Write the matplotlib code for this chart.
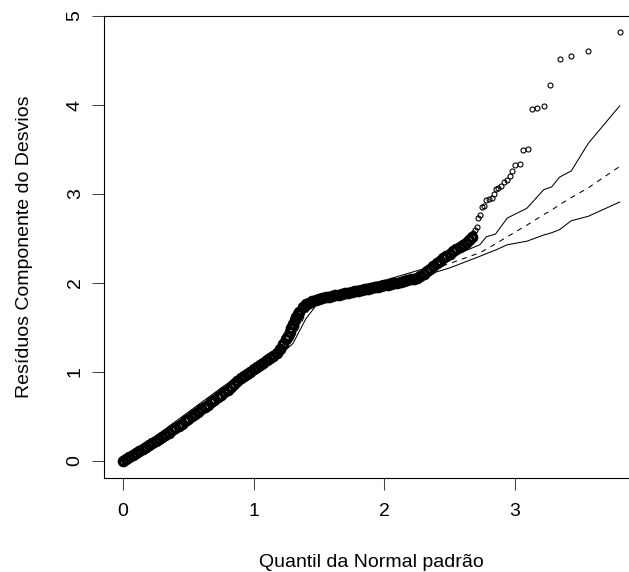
import matplotlib
matplotlib.use("Agg")
import matplotlib.pyplot as plt

plt.rcParams['font.family'] = ['Liberation Sans', 'DejaVu Sans']

# half-normal plot with simulated envelope
dense_x = [0.000, 0.025, 0.050, 0.075, 0.100, 0.125, 0.150, 0.175, 0.200, 0.225,
           0.250, 0.275, 0.300, 0.325, 0.350, 0.375, 0.400, 0.425, 0.450, 0.475,
           0.500, 0.525, 0.550, 0.575, 0.600, 0.625, 0.650, 0.675, 0.700, 0.725,
           0.750, 0.775, 0.800, 0.825, 0.850, 0.875, 0.900, 0.925, 0.950, 0.975,
           1.000, 1.025, 1.050, 1.075, 1.100, 1.125, 1.150, 1.175, 1.200, 1.225,
           1.250, 1.2625, 1.275, 1.2875, 1.300, 1.3125, 1.325, 1.3375, 1.350, 1.375,
           1.400, 1.425, 1.450, 1.475, 1.500, 1.525, 1.550, 1.575, 1.600, 1.625,
           1.650, 1.675, 1.700, 1.725, 1.750, 1.775, 1.800, 1.825, 1.850, 1.875,
           1.900, 1.925, 1.950, 1.975, 2.000, 2.025, 2.050, 2.075, 2.100, 2.125,
           2.150, 2.175, 2.200, 2.225, 2.250, 2.275, 2.300, 2.325, 2.350, 2.375,
           2.400, 2.425, 2.450, 2.475, 2.500, 2.525, 2.550, 2.575, 2.600, 2.625,
           2.650, 2.670]
dense_y = [0.000, 0.022, 0.045, 0.068, 0.090, 0.115, 0.140, 0.162, 0.185, 0.208,
           0.230, 0.252, 0.275, 0.298, 0.320, 0.345, 0.370, 0.395, 0.420, 0.448,
           0.475, 0.502, 0.530, 0.555, 0.580, 0.608, 0.635, 0.662, 0.690, 0.718,
           0.745, 0.772, 0.800, 0.835, 0.870, 0.900, 0.930, 0.955, 0.980, 1.005,
           1.030, 1.055, 1.080, 1.105, 1.130, 1.155, 1.180, 1.215, 1.260, 1.310,
           1.370, 1.410, 1.450, 1.495, 1.540, 1.580, 1.620, 1.650, 1.680, 1.730,
           1.760, 1.780, 1.795, 1.808, 1.820, 1.830, 1.840, 1.848, 1.855, 1.862,
           1.870, 1.878, 1.885, 1.892, 1.900, 1.908, 1.915, 1.922, 1.930, 1.938,
           1.945, 1.952, 1.960, 1.968, 1.975, 1.982, 1.990, 1.995, 2.000, 2.010,
           2.020, 2.030, 2.040, 2.050, 2.060, 2.078, 2.100, 2.130, 2.160, 2.190,
           2.220, 2.250, 2.280, 2.305, 2.330, 2.355, 2.380, 2.405, 2.430, 2.455,
           2.480, 2.520]

tail_x = [2.680, 2.695, 2.705, 2.720, 2.735, 2.750, 2.760, 2.780, 2.800, 2.820,
          2.840, 2.855, 2.870, 2.890, 2.915, 2.935, 2.960, 2.980, 3.000, 3.035,
          3.060, 3.100, 3.130, 3.170, 3.220, 3.270, 3.340, 3.430, 3.555, 3.800]
tail_y = [2.560, 2.600, 2.630, 2.730, 2.760, 2.850, 2.860, 2.930, 2.940, 2.960,
          3.000, 3.060, 3.070, 3.090, 3.130, 3.160, 3.200, 3.260, 3.330, 3.340,
          3.490, 3.510, 3.960, 3.970, 3.990, 4.220, 4.520, 4.550, 4.610, 4.820]

env_x = [0.0, 0.25, 0.5, 0.75, 1.0, 1.2, 1.3, 1.4, 1.5, 1.75, 2.0, 2.3, 2.5,
         2.73, 2.78, 2.85, 2.94, 3.09, 3.22, 3.28, 3.34, 3.43, 3.56, 3.80]
env_upper = [0.0, 0.28, 0.55, 0.82, 1.08, 1.25, 1.42, 1.70, 1.86, 1.95, 2.03, 2.16, 2.29,
             2.43, 2.52, 2.55, 2.73, 2.84, 3.05, 3.08, 3.19, 3.26, 3.57, 3.99]
env_mid = [0.0, 0.265, 0.525, 0.79, 1.055, 1.22, 1.37, 1.66, 1.82, 1.92, 2.00, 2.12, 2.22,
           2.34, 2.38, 2.44, 2.52, 2.65, 2.77, 2.82, 2.88, 2.96, 3.07, 3.31]
env_lower = [0.0, 0.25, 0.50, 0.77, 1.03, 1.19, 1.32, 1.60, 1.79, 1.89, 1.97, 2.08, 2.17,
             2.30, 2.33, 2.37, 2.43, 2.47, 2.54, 2.565, 2.60, 2.70, 2.75, 2.91]

fig = plt.figure(figsize=(6.29, 5.72), dpi=100)
# plot region runs past the right edge of the picture (it is cropped there)
ax = fig.add_axes([104 / 629, (572 - 478.3) / 572, (639 - 104) / 629, (478.3 - 15.5) / 572])

ax.plot(env_x, env_upper, color='black', lw=0.75)
ax.plot(env_x, env_lower, color='black', lw=0.75)
ax.plot(env_x, env_mid, color='black', lw=0.75, dashes=(5, 5))

# thousands of overlapping circles make a solid band here
ax.plot(dense_x, dense_y, ls='none', marker='o', ms=6, mfc='none', mec='black', mew=2.4)
ax.plot(tail_x, tail_y, ls='none', marker='o', ms=3.6, mfc='none', mec='black', mew=0.8)

ax.set_xlim(-0.145, 3.948)
ax.set_ylim(-0.194, 5.006)
ax.set_xticks([0, 1, 2, 3])
ax.set_yticks([0, 1, 2, 3, 4, 5])
ax.tick_params(direction='out', length=8.6, width=0.75, labelsize=14, color='#444444')
ax.tick_params(axis='x', pad=9)
ax.tick_params(axis='y', pad=6)
for lab in ax.get_yticklabels():
    lab.set_rotation(90)
    lab.set_va('center')
for s in ax.spines.values():
    s.set_linewidth(0.8)

fig.text(371 / 629, 1 - 567 / 572, 'Quantil da Normal padrão', ha='center', va='baseline', fontsize=14)
fig.text(25 / 629, 1 - 247 / 572, 'Resíduos Componente do Desvios', ha='center', va='center',
         rotation=90, fontsize=14)

fig.savefig('out.png', dpi=100)
